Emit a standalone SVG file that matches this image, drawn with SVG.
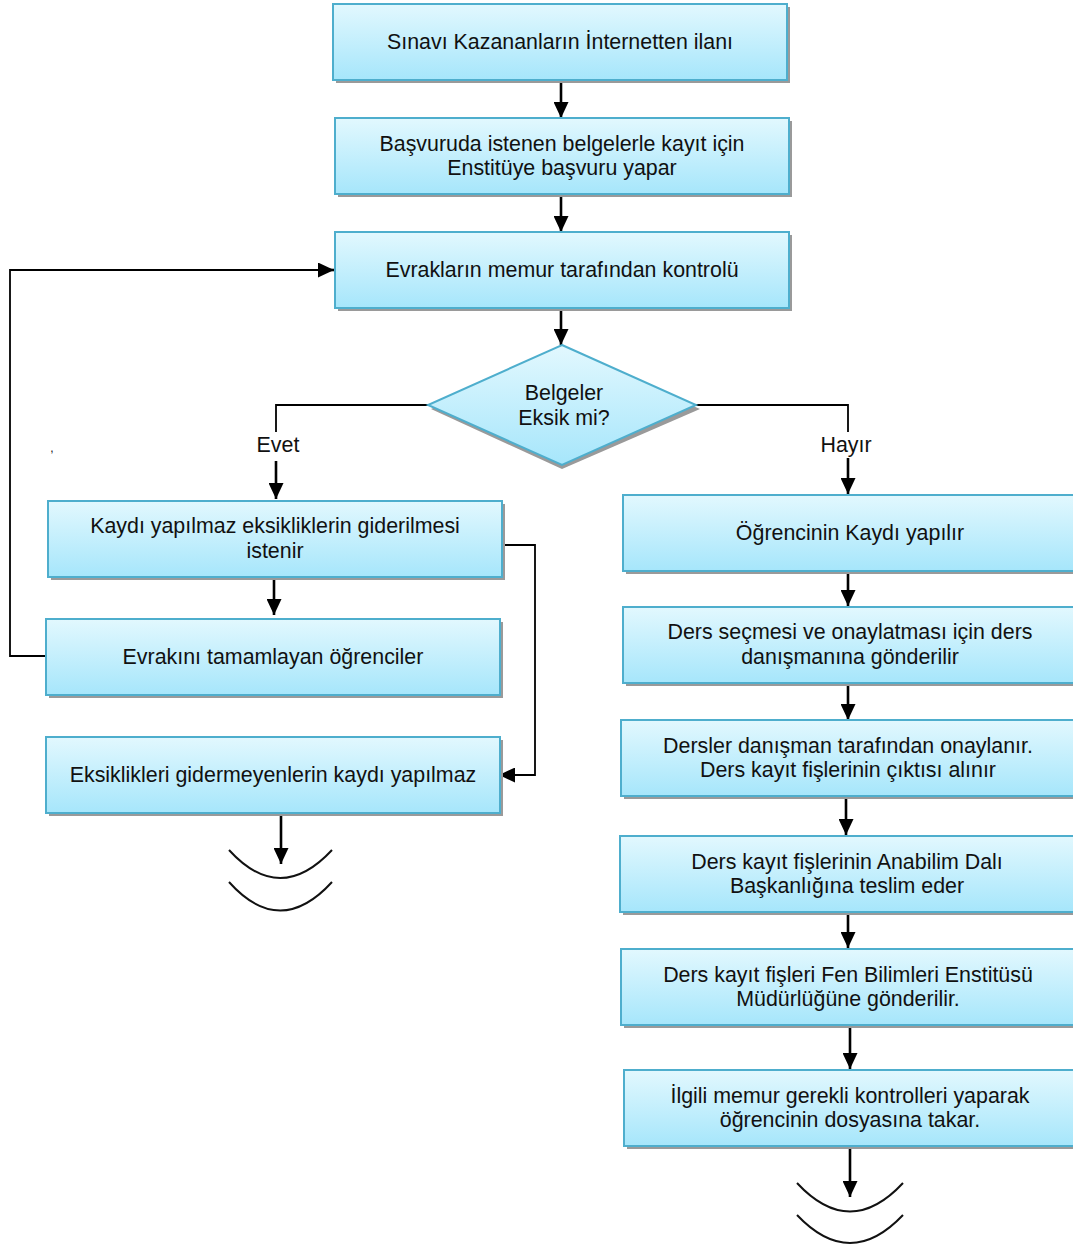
<svg xmlns="http://www.w3.org/2000/svg" width="1073" height="1247" viewBox="0 0 1073 1247">
  <defs>
    <linearGradient id="boxFill" x1="0" y1="0" x2="0" y2="1">
      <stop offset="0" stop-color="#e2f8fe"/>
      <stop offset="1" stop-color="#a6e6fb"/>
    </linearGradient>
    <marker id="arrowBig" viewBox="0 0 16 15" refX="16" refY="7.5" markerWidth="16" markerHeight="15" markerUnits="userSpaceOnUse" orient="auto">
      <path d="M0,0 L16,7.5 L0,15 z" fill="#000"/>
    </marker>
  </defs>
  <style>
    .box { fill: url(#boxFill); stroke: #4eaecd; stroke-width: 2; }
    .shadow { fill: #9a9a9a; }
    .lbl { font-family: "Liberation Sans", Arial, sans-serif; font-size: 21.4px; fill: #111; text-anchor: middle; }
    .edge { fill: none; stroke: #000; stroke-width: 2.6; }
    .thin { fill: none; stroke: #000; stroke-width: 1.8; }
    .arc { fill: none; stroke: #111; stroke-width: 2; }
  </style>

  <!-- connectors -->
  <g id="connectors">
    <path class="edge" d="M561,80 V118" marker-end="url(#arrowBig)"/>
    <path class="edge" d="M561,194 V232" marker-end="url(#arrowBig)"/>
    <path class="edge" d="M561,308 V345" marker-end="url(#arrowBig)"/>
    <path class="thin" d="M429,405 H276 V432"/>
    <path class="edge" d="M276,461 V499" marker-end="url(#arrowBig)"/>
    <path class="thin" d="M696,405 H848 V432"/>
    <path class="edge" d="M848,458 V494" marker-end="url(#arrowBig)"/>
    <path class="edge" d="M274,578 V615" marker-end="url(#arrowBig)"/>
    <path class="thin" d="M500,545 H535 V775 H510"/>
    <path class="edge" d="M512,775 H499" marker-end="url(#arrowBig)"/>
    <path class="thin" d="M46,656 H10 V270 H320"/>
    <path class="edge" d="M318,270 H334" marker-end="url(#arrowBig)"/>
    <path class="edge" d="M281,813 V864" marker-end="url(#arrowBig)"/>
    <path class="edge" d="M848,572 V606" marker-end="url(#arrowBig)"/>
    <path class="edge" d="M848,684 V720" marker-end="url(#arrowBig)"/>
    <path class="edge" d="M846,797 V835" marker-end="url(#arrowBig)"/>
    <path class="edge" d="M848,913 V948" marker-end="url(#arrowBig)"/>
    <path class="edge" d="M850,1026 V1069" marker-end="url(#arrowBig)"/>
    <path class="edge" d="M850,1146 V1197" marker-end="url(#arrowBig)"/>
    <text class="lbl" x="278" y="452">Evet</text>
    <text class="lbl" x="846" y="452">Hayır</text>
    <text class="lbl" x="52" y="452" style="font-size:12px">,</text>
  </g>

  <!-- off-page end marks -->
  <g id="end-left">
    <path class="arc" d="M229,850 Q280,906 332,850"/>
    <path class="arc" d="M229,882 Q280,939 332,882"/>
  </g>
  <g id="end-right">
    <path class="arc" d="M797,1183 Q850,1240 903,1183"/>
    <path class="arc" d="M797,1215 Q850,1271 903,1215"/>
  </g>

  <g id="n1">
    <rect class="shadow" x="336" y="7" width="454" height="76"/>
    <rect class="box" x="333" y="4" width="454" height="76"/>
    <text class="lbl" x="560" y="49">Sınavı Kazananların İnternetten ilanı</text>
  </g>
  <g id="n2">
    <rect class="shadow" x="338" y="121" width="454" height="76"/>
    <rect class="box" x="335" y="118" width="454" height="76"/>
    <text class="lbl" x="562" y="151">Başvuruda istenen belgelerle kayıt için</text>
    <text class="lbl" x="562" y="175">Enstitüye başvuru yapar</text>
  </g>
  <g id="n3">
    <rect class="shadow" x="338" y="235" width="454" height="76"/>
    <rect class="box" x="335" y="232" width="454" height="76"/>
    <text class="lbl" x="562" y="277">Evrakların memur tarafından kontrolü</text>
  </g>
  <g id="decision">
    <polygon class="shadow" points="562,349 700,409 562,469 431,409"/>
    <polygon class="box" points="562,345 696,405 562,465 428,405"/>
    <text class="lbl" x="564" y="400">Belgeler</text>
    <text class="lbl" x="564" y="425">Eksik mi?</text>
  </g>
  <g id="nA">
    <rect class="shadow" x="51" y="504" width="454" height="76"/>
    <rect class="box" x="48" y="501" width="454" height="76"/>
    <text class="lbl" x="275" y="533">Kaydı yapılmaz eksikliklerin giderilmesi</text>
    <text class="lbl" x="275" y="558">istenir</text>
  </g>
  <g id="nB">
    <rect class="shadow" x="49" y="622" width="454" height="76"/>
    <rect class="box" x="46" y="619" width="454" height="76"/>
    <text class="lbl" x="273" y="664">Evrakını tamamlayan öğrenciler</text>
  </g>
  <g id="nC">
    <rect class="shadow" x="49" y="740" width="454" height="76"/>
    <rect class="box" x="46" y="737" width="454" height="76"/>
    <text class="lbl" x="273" y="782">Eksiklikleri gidermeyenlerin kaydı yapılmaz</text>
  </g>
  <g id="r1">
    <rect class="shadow" x="626" y="498" width="454" height="76"/>
    <rect class="box" x="623" y="495" width="454" height="76"/>
    <text class="lbl" x="850" y="540">Öğrencinin Kaydı yapılır</text>
  </g>
  <g id="r2">
    <rect class="shadow" x="626" y="610" width="454" height="76"/>
    <rect class="box" x="623" y="607" width="454" height="76"/>
    <text class="lbl" x="850" y="639">Ders seçmesi ve onaylatması için ders</text>
    <text class="lbl" x="850" y="664">danışmanına gönderilir</text>
  </g>
  <g id="r3">
    <rect class="shadow" x="624" y="723" width="454" height="76"/>
    <rect class="box" x="621" y="720" width="454" height="76"/>
    <text class="lbl" x="848" y="753">Dersler danışman tarafından onaylanır.</text>
    <text class="lbl" x="848" y="777">Ders kayıt fişlerinin çıktısı alınır</text>
  </g>
  <g id="r4">
    <rect class="shadow" x="623" y="839" width="454" height="76"/>
    <rect class="box" x="620" y="836" width="454" height="76"/>
    <text class="lbl" x="847" y="869">Ders kayıt fişlerinin Anabilim Dalı</text>
    <text class="lbl" x="847" y="893">Başkanlığına teslim eder</text>
  </g>
  <g id="r5">
    <rect class="shadow" x="624" y="952" width="454" height="76"/>
    <rect class="box" x="621" y="949" width="454" height="76"/>
    <text class="lbl" x="848" y="982">Ders kayıt fişleri Fen Bilimleri Enstitüsü</text>
    <text class="lbl" x="848" y="1006">Müdürlüğüne gönderilir.</text>
  </g>
  <g id="r6">
    <rect class="shadow" x="627" y="1073" width="454" height="76"/>
    <rect class="box" x="624" y="1070" width="454" height="76"/>
    <text class="lbl" x="850" y="1103">İlgili memur gerekli kontrolleri yaparak</text>
    <text class="lbl" x="850" y="1127">öğrencinin dosyasına takar.</text>
  </g>
</svg>
